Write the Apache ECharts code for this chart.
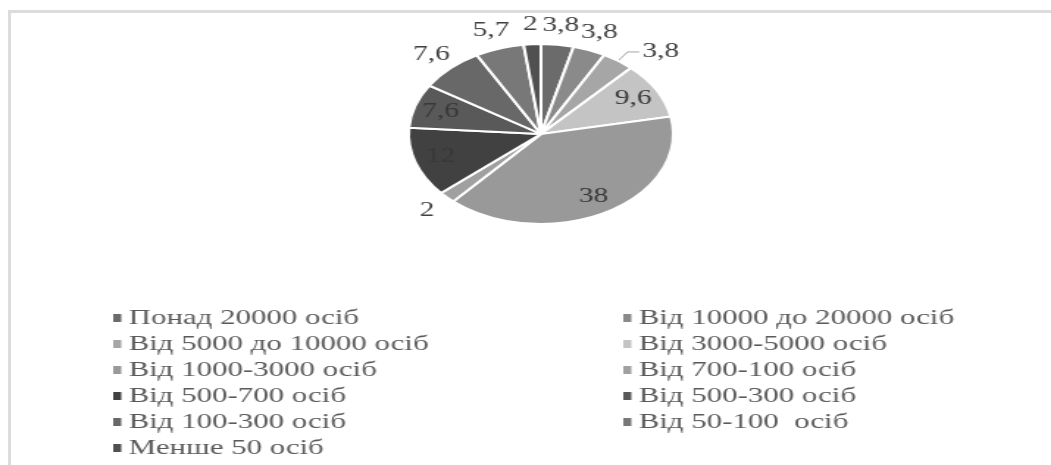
<!DOCTYPE html>
<html>
<head>
<meta charset="utf-8">
<script src="https://cdn.jsdelivr.net/npm/echarts@6/dist/echarts.min.js"></script>
<style>
  html, body { margin: 0; padding: 0; background: #fff; width: 1051px; height: 465px; overflow: hidden; }
  #frame {
    position: absolute; left: 8px; top: 10px; width: 1043px; height: 455px;
    border-top: 3px solid #dcdcdc; border-left: 3px solid #dcdcdc;
  }
  /* the source picture is stretched sideways, so the chart is too */
  #chart {
    position: absolute; left: 0; top: 0; width: 715px; height: 465px;
    transform: scaleX(1.47); transform-origin: 0 0;
  }
</style>
</head>
<body>
<div id="frame"></div>
<div id="chart"></div>
<script>
// data
var categories = [
  'Понад 20000 осіб', 'Від 10000 до 20000 осіб', 'Від 5000 до 10000 осіб',
  'Від 3000-5000 осіб', 'Від 1000-3000 осіб', 'Від 700-100 осіб',
  'Від 500-700 осіб', 'Від 500-300 осіб', 'Від 100-300 осіб',
  'Від 50-100  осіб', 'Менше 50 осіб'
];
var values = [3.8, 3.8, 3.8, 9.6, 38, 2, 12, 7.6, 7.6, 5.7, 2];

// styles
var colors = ['#6b6b6b', '#8a8a8a', '#a6a6a6', '#c4c4c4', '#999999', '#a0a0a0',
              '#414141', '#595959', '#686868', '#787878', '#505050'];
// where each value label sits: inside the slice, just outside it, or on a leader line
var labelPlace = ['out', 'out', 'line', 'in', 'in', 'out', 'in', 'in', 'out', 'out', 'out'];

var fmt = function (p) { return String(p.value).replace('.', ','); };
var font = 'Liberation Serif';
var center = [368, 134];

var chart = echarts.init(document.getElementById('chart'));

function labelSeries(place, outer, color) {
  var data = [];
  for (var i = 0; i < values.length; i++) {
    data.push({
      name: categories[i], value: values[i],
      itemStyle: { color: 'rgba(0,0,0,0)' },
      label: { show: labelPlace[i] === place }
    });
  }
  return {
    type: 'pie', center: center, radius: [0, outer], startAngle: 90,
    silent: true, avoidLabelOverlap: false,
    emphasis: { disabled: true },
    itemStyle: { borderWidth: 0 },
    label: { position: 'inside', formatter: fmt, fontFamily: font, fontSize: 20, color: color },
    labelLine: { show: false },
    data: data
  };
}

var mainData = [];
for (var i = 0; i < values.length; i++) {
  mainData.push({
    name: categories[i], value: values[i],
    itemStyle: { color: colors[i] },
    label: { show: labelPlace[i] === 'line' }
  });
}

var legendItems = function (odd) {
  var out = [];
  for (var i = odd ? 1 : 0; i < categories.length; i += 2) {
    out.push({ name: categories[i], itemStyle: { color: colors[i], borderWidth: 0 } });
  }
  return out;
};

var legendBase = {
  orient: 'vertical', top: 305, height: 170, padding: 0, icon: 'rect',
  itemWidth: 5.5, itemHeight: 8, itemGap: 0,
  selectedMode: false,
  itemStyle: { borderWidth: 0 },
  textStyle: { fontFamily: font, fontSize: 21, lineHeight: 26, color: '#5a5a5a' }
};

var option = {
  animation: false,
  legend: [
    Object.assign({}, legendBase, { left: 77, data: legendItems(false) }),
    Object.assign({}, legendBase, { left: 424, data: legendItems(true) })
  ],
  series: [
    {
      type: 'pie',
      center: center,
      radius: [0, 90],
      startAngle: 90,
      avoidLabelOverlap: false,
      emphasis: { disabled: true },
      itemStyle: { borderColor: '#fff', borderWidth: 2 },
      label: {
        position: 'outside', formatter: fmt, distanceToLabelLine: 2,
        fontFamily: font, fontSize: 20, color: '#404040'
      },
      labelLine: { show: true, length: 11, length2: 8, lineStyle: { color: '#a6a6a6', width: 1 } },
      data: mainData
    },
    labelSeries('in', 138, '#383838'),
    labelSeries('out', 212, '#404040')
  ]
};

chart.setOption(option);
window.addEventListener('resize', chart.resize);
</script>
</body>
</html>
